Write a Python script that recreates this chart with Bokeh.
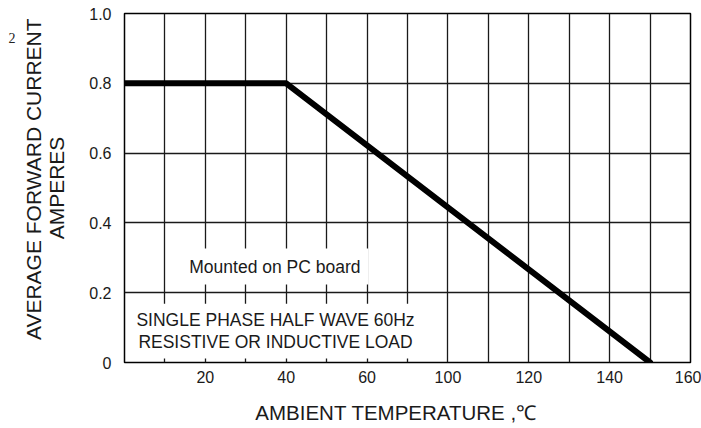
from bokeh.plotting import figure
from bokeh.models import Range1d, FixedTicker, Label, PrintfTickFormatter, LinearAxis
from bokeh.embed import file_html
from bokeh.resources import INLINE

# ---- data (x in grid positions; the printed tick labels are kept as in the original) ----
x_ticks = [20, 40, 60, 80, 100, 120, 140]
x_tick_labels = ["20", "40", "60", "100", "120", "140", "160"]
x_grid = [10, 20, 30, 40, 50, 60, 70, 80, 90, 100, 110, 120, 130]
y_ticks = [0, 0.2, 0.4, 0.6, 0.8, 1.0]
y_tick_labels = ["0", "0.2", "0.4", "0.6", "0.8", "1.0"]
y_grid = [0.2, 0.4, 0.6, 0.8]
curve_x = [0, 40, 130]
curve_y = [0.8, 0.8, 0.0]
page_mark = "2"
page_mark_y = 0.93

FONT = "Liberation Sans"
TXT = "#1a1a1a"
NB = "\u00a0"

p = figure(width=701, height=428, x_range=Range1d(0, 140), y_range=Range1d(0, 1.0),
           output_backend="svg", toolbar_location=None,
           min_border_left=124, min_border_right=11, min_border_top=13, min_border_bottom=66)
p.background_fill_color = "white"
p.border_fill_color = "white"
p.outline_line_color = "black"
p.outline_line_width = 1.5

# grids
p.xgrid.ticker = FixedTicker(ticks=x_grid)
p.ygrid.ticker = FixedTicker(ticks=y_grid)
for g in (p.xgrid, p.ygrid):
    g.grid_line_color = "#1a1a1a"
    g.grid_line_width = 1.3

# axes
p.xaxis.ticker = FixedTicker(ticks=x_ticks)
p.xaxis.major_label_overrides = {t: l for t, l in zip(x_ticks, x_tick_labels)}
p.yaxis.ticker = FixedTicker(ticks=y_ticks)
p.yaxis.formatter = PrintfTickFormatter(format="%.1f")
p.yaxis.major_label_overrides = {t: l for t, l in zip(y_ticks, y_tick_labels)}

# outer left "axis" carrying only the page mark
mark_axis = LinearAxis(ticker=FixedTicker(ticks=[page_mark_y]),
                       major_label_overrides={page_mark_y: page_mark})
p.add_layout(mark_axis, "left")

for ax in (p.xaxis[0], p.yaxis[0], mark_axis):
    ax.axis_line_color = None
    ax.major_tick_line_color = None
    ax.minor_tick_line_color = None
    ax.major_tick_out = 0
    ax.major_tick_in = 0
    ax.major_label_text_font = FONT
    ax.major_label_text_font_size = "16px"
    ax.major_label_text_color = TXT
    ax.axis_label_text_font = FONT
    ax.axis_label_text_font_style = "normal"
    ax.axis_label_text_color = TXT

mark_axis.major_label_text_font = "Liberation Serif"
mark_axis.major_label_text_font_size = "14px"
mark_axis.major_label_text_color = "#222222"
mark_axis.major_label_standoff = 4

p.xaxis.major_label_standoff = 8
p.xaxis.axis_label = "AMBIENT TEMPERATURE ,\u2103" + NB * 4
p.xaxis.axis_label_text_font_size = "20.5px"
p.xaxis.axis_label_standoff = 15

p.yaxis[0].major_label_standoff = 13
p.yaxis[0].axis_label = NB * 3 + "AVERAGE FORWARD CURRENT\nAMPERES"
p.yaxis[0].axis_label_text_font_size = "21px"
p.yaxis[0].axis_label_text_line_height = 1.0
p.yaxis[0].axis_label_standoff = 18

# derating curve
p.line(curve_x, curve_y, line_color="black", line_width=6, line_join="round", line_cap="round")

# annotations
p.add_layout(Label(x=37.2, y=0.275, text="Mounted on PC board",
                   text_align="center", text_baseline="middle",
                   text_font=FONT, text_font_size="17.5px", text_color=TXT,
                   background_fill_color="white", padding=8))
p.add_layout(Label(x=37.35, y=0.09,
                   text="SINGLE PHASE HALF WAVE 60Hz\nRESISTIVE OR INDUCTIVE LOAD",
                   text_align="center", text_baseline="middle",
                   text_font=FONT, text_font_size="17.5px", text_color=TXT,
                   text_line_height=1.14,
                   background_fill_color="white", padding=6))

open("out.html", "w").write(file_html(p, INLINE))
